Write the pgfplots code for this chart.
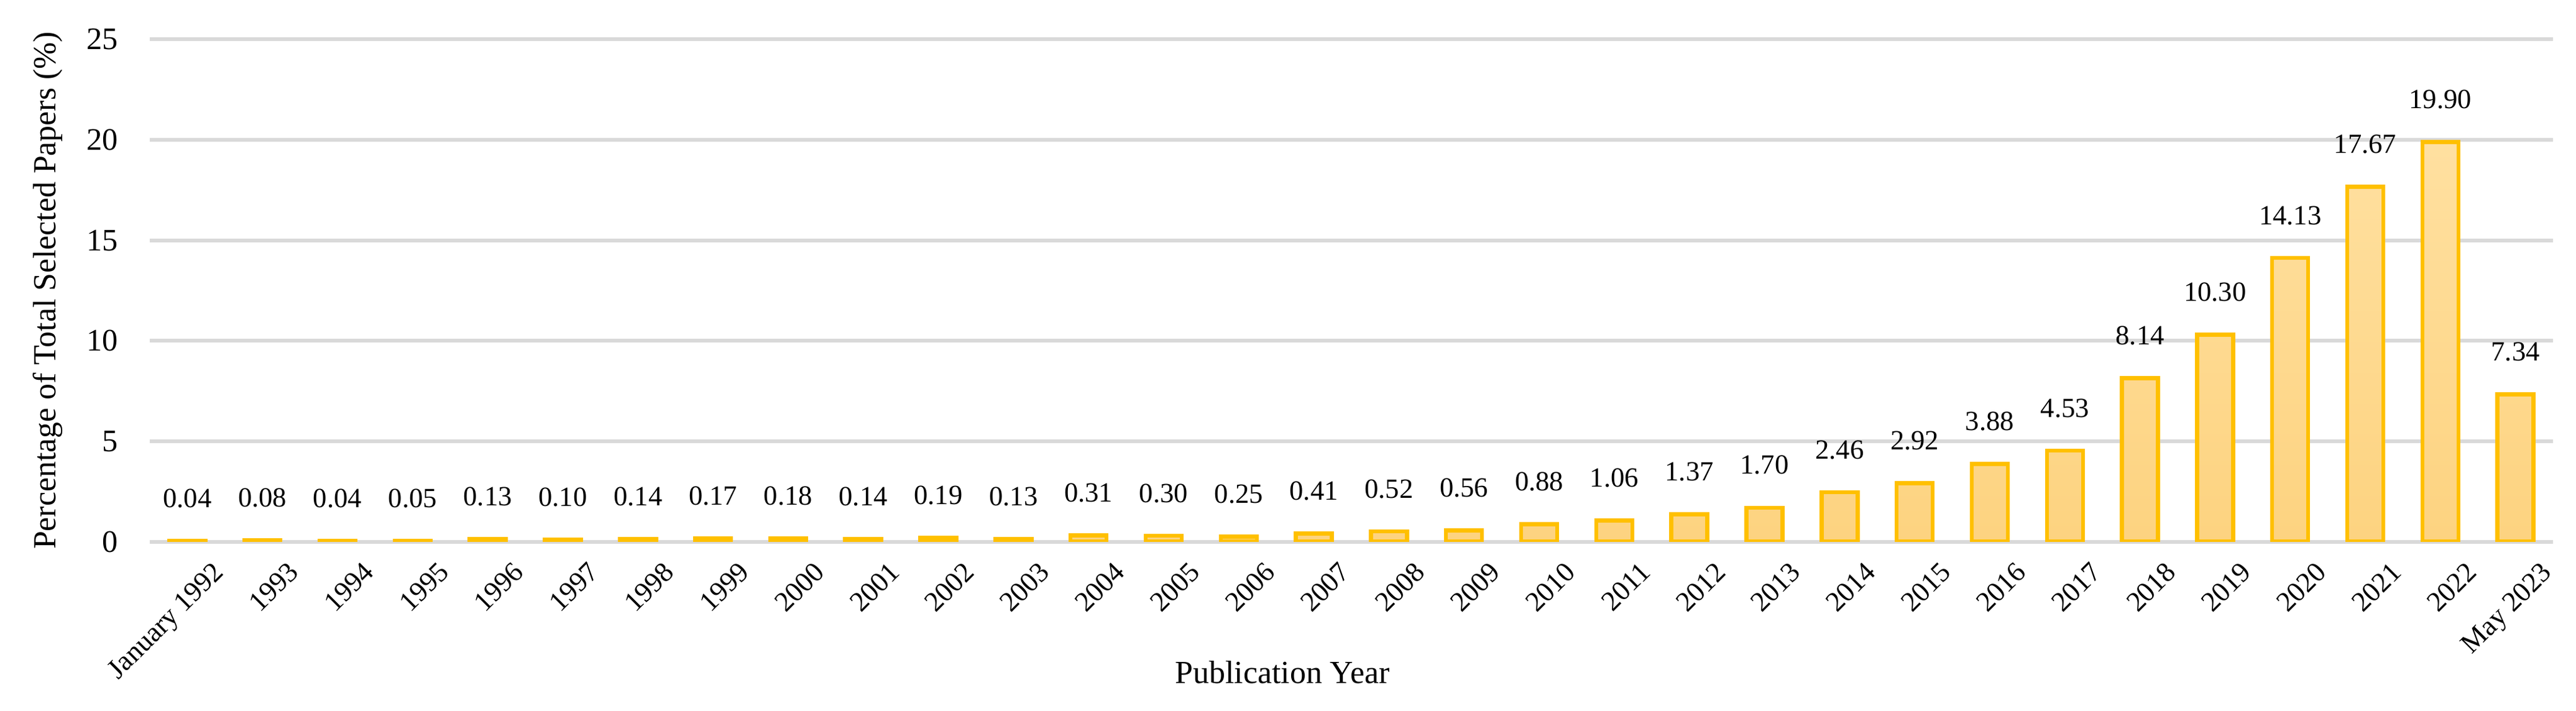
\documentclass[border=0pt]{standalone}
\usepackage{fontspec}
\setmainfont{Liberation Serif}
\usepackage{pgfplots}
\pgfplotsset{compat=1.18}
\definecolor{barline}{RGB}{255,192,0}
\definecolor{bartop}{RGB}{255,224,160}
\definecolor{barbot}{RGB}{253,211,128}
\definecolor{gridc}{RGB}{217,217,217}
\begin{document}
\begin{tikzpicture}
\begin{axis}[
  name=ax,
  scale only axis,
  width=805.4pt, height=168.4pt,
  xmin=-0.5, xmax=31.5,
  ymin=0, ymax=25,
  ytick={0,5,10,15,20,25},
  xtick={0,...,31},
  xticklabels={January 1992,1993,1994,1995,1996,1997,1998,1999,2000,2001,2002,2003,2004,2005,2006,2007,2008,2009,2010,2011,2012,2013,2014,2015,2016,2017,2018,2019,2020,2021,2022,May 2023},
  axis line style={draw=none},
  major tick length=0pt,
  ymajorgrids,
  grid style={gridc, line width=1.25pt},
  /pgf/number format/assume math mode=true,
  yticklabel style={anchor=east, inner sep=0pt, xshift=-10.5pt, font=\fontsize{10.5}{12}\selectfont},
  xticklabel style={rotate=45, anchor=north east, inner sep=0pt, yshift=-10pt, xshift=1.5pt, font=\fontsize{9.4}{10}\selectfont},
  every axis y label/.style={at={(axis description cs:-0.036,0.5)}, rotate=90, anchor=south, inner sep=0pt, font=\fontsize{10.8}{12}\selectfont},
  every axis x label/.style={at={(axis description cs:0.4713,-0.282)}, anchor=base, inner sep=0pt, font=\fontsize{10.8}{12}\selectfont},
  ylabel={Percentage of Total Selected Papers (\%)},
  xlabel={Publication Year},
  nodes near coords={\pgfmathprintnumber[fixed,fixed zerofill,precision=2]{\pgfplotspointmeta}},
  every node near coord/.append style={anchor=south, inner sep=0pt, yshift=10.4pt, font=\fontsize{9.3}{10}\selectfont, text=black},
]
\addplot[ybar, bar width=0.48, draw=barline, line width=1.35pt, top color=bartop, bottom color=barbot] coordinates {
(0,0.04) (1,0.08) (2,0.04) (3,0.05) (4,0.13) (5,0.10) (6,0.14) (7,0.17) (8,0.18) (9,0.14)
(10,0.19) (11,0.13) (12,0.31) (13,0.30) (14,0.25) (15,0.41) (16,0.52) (17,0.56) (18,0.88) (19,1.06)
(20,1.37) (21,1.70) (22,2.46) (23,2.92) (24,3.88) (25,4.53) (26,8.14) (27,10.30) (28,14.13) (29,17.67)
(30,19.90) (31,7.34)
};
\end{axis}
\pgfresetboundingbox
\path[use as bounding box] ([xshift=-50.2pt,yshift=-56.7pt]ax.south west) rectangle ([xshift=7.7pt,yshift=13.2pt]ax.north east);
\end{tikzpicture}
\end{document}
